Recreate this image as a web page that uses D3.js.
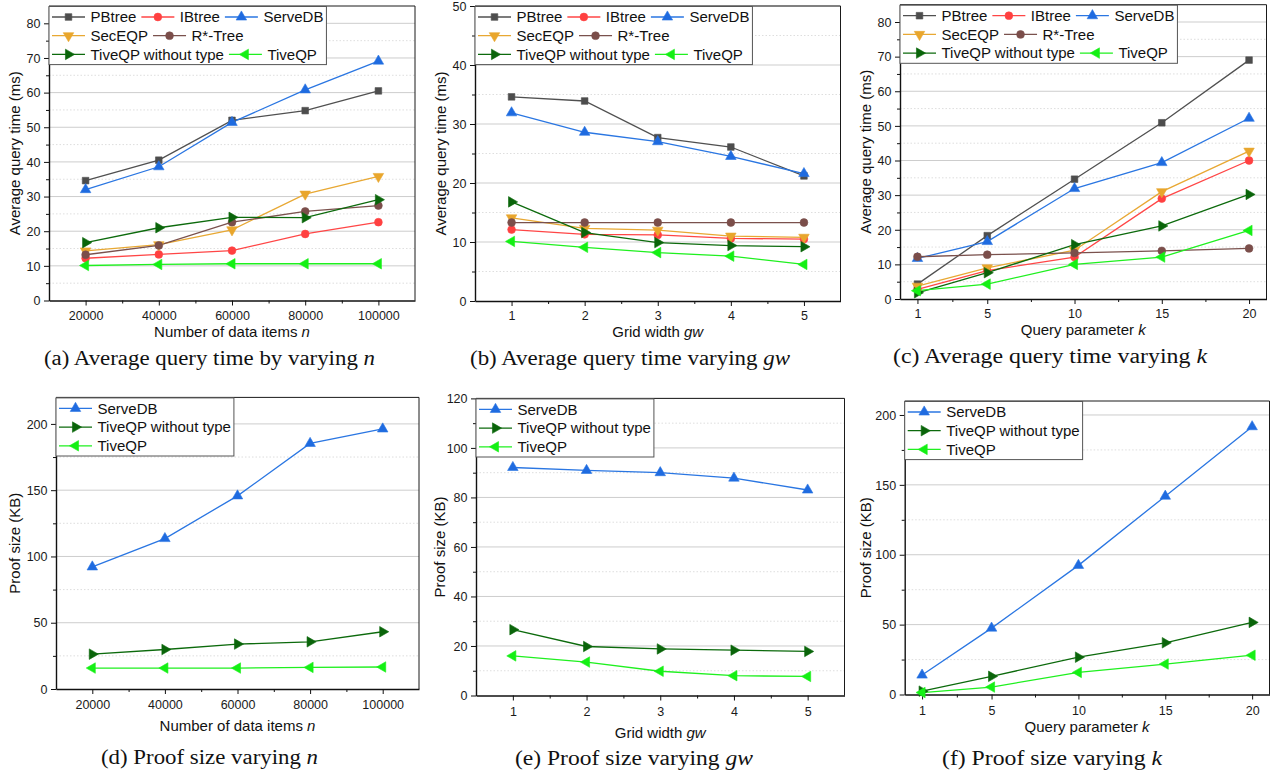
<!DOCTYPE html>
<html><head><meta charset="utf-8">
<script src="https://cdn.jsdelivr.net/npm/d3@7"></script>
<style>body{margin:0;background:#fff} svg{display:block}</style>
</head><body><svg id="c" width="1281" height="774"></svg>
<script>
// ---------------- DATA ----------------
const timeSeriesNames = ["PBtree","IBtree","ServeDB","SecEQP","R*-Tree","TiveQP without type","TiveQP"];
const proofSeriesNames = ["ServeDB","TiveQP without type","TiveQP"];

const nValues  = [20000, 40000, 60000, 80000, 100000];
const gwValues = [1, 2, 3, 4, 5];
const kValues  = [1, 5, 10, 15, 20];

const nTickLabels  = ["20000","40000","60000","80000","100000"];
const gwTickLabels = ["1","2","3","4","5"];
const kTickLabels  = ["1","5","10","15","20"];

// (a) average query time vs n  (rows follow timeSeriesNames)
const timeByN = [
  [34.6, 40.5, 52.0, 54.8, 60.5],
  [12.2, 13.3, 14.4, 19.2, 22.6],
  [32.0, 38.6, 51.4, 60.8, 69.1],
  [14.3, 16.1, 20.4, 30.7, 35.8],
  [13.2, 15.9, 22.6, 25.7, 27.4],
  [16.7, 21.0, 24.0, 23.9, 29.1],
  [10.1, 10.4, 10.6, 10.6, 10.6]
];
// (b) average query time vs gw
const timeByGw = [
  [34.6, 33.9, 27.7, 26.1, 21.2],
  [12.1, 11.3, 11.2, 10.6, 10.5],
  [31.9, 28.6, 27.0, 24.5, 21.6],
  [14.1, 12.3, 12.0, 11.0, 10.8],
  [13.3, 13.3, 13.3, 13.3, 13.3],
  [16.8, 11.6, 9.9, 9.4, 9.2],
  [10.1, 9.1, 8.2, 7.6, 6.2]
];
// (c) average query time vs k
const timeByK = [
  [4.3, 18.3, 34.6, 50.9, 69.0],
  [2.8, 8.2, 12.1, 29.0, 40.0],
  [11.7, 16.6, 31.9, 39.4, 52.2],
  [3.7, 9.0, 14.1, 31.0, 42.7],
  [12.2, 12.8, 13.3, 13.9, 14.6],
  [1.8, 7.6, 15.7, 21.1, 30.2],
  [2.4, 4.3, 10.0, 12.1, 19.8]
];
// (d) proof size vs n (rows follow proofSeriesNames)
const proofByN = [
  [92.1, 113.5, 145.7, 185.3, 196.2],
  [26.3, 29.8, 33.9, 35.6, 43.2],
  [15.8, 15.8, 15.8, 16.3, 16.6]
];
// (e) proof size vs gw
const proofByGw = [
  [92.1, 90.9, 90.0, 87.8, 83.0],
  [26.6, 19.8, 18.8, 18.3, 17.8],
  [16.0, 13.5, 9.8, 8.0, 7.7]
];
// (f) proof size vs k
const proofByK = [
  [13.9, 47.5, 92.4, 141.9, 191.6],
  [2.4, 13.0, 26.7, 37.0, 51.6],
  [1.4, 5.3, 15.8, 21.8, 28.1]
];

const timeYTicks    = [0,10,20,30,40,50,60,70,80];
const timeYMinor    = [5,15,25,35,45,55,65,75];
const timeGwYTicks  = [0,10,20,30,40,50];
const timeGwYMinor  = [5,15,25,35,45];
const proofNYTicks  = [0,50,100,150,200];
const proofNYMinor  = [25,75,125,175];
const proofGwYTicks = [0,20,40,60,80,100,120];
const proofGwYMinor = [10,30,50,70,90,110];
const proofKYTicks  = [0,50,100,150,200];
const proofKYMinor  = [25,75,125,175];
const nXMinor  = [30000,50000,70000,90000];
const gwXMinor = [1.5,2.5,3.5,4.5];
const kXMinor  = [3,7.5,12.5,17.5];

// ---------------- STYLES ----------------
const styles = {
  "PBtree":              {line:"#505050", fill:"#4d4d4d", sym:d3.symbolSquare,   rot:0,   size:44},
  "IBtree":              {line:"#ff4646", fill:"#ff4040", sym:d3.symbolCircle,   rot:0,   size:48},
  "ServeDB":             {line:"#2a76e2", fill:"#1f6be0", sym:d3.symbolTriangle, rot:0,   size:48},
  "SecEQP":              {line:"#e8a833", fill:"#e9a62c", sym:d3.symbolTriangle, rot:180, size:48},
  "R*-Tree":             {line:"#7a514d", fill:"#7b4e4a", sym:d3.symbolCircle,   rot:0,   size:48},
  "TiveQP without type": {line:"#0c6a0c", fill:"#0a640a", sym:d3.symbolTriangle, rot:90,  size:48},
  "TiveQP":              {line:"#1ff01f", fill:"#14f014", sym:d3.symbolTriangle, rot:-90, size:48}
};

const svg = d3.select("#c");
svg.append("rect").attr("width",1281).attr("height",774).attr("fill","#fff");

const SANS = "'Liberation Sans', Arial, sans-serif";
const SERIF = "'Liberation Serif', 'Times New Roman', serif";

const panels = [
  {left:49, right:415, top:6, bottom:300.5, xDomain:[10000,110000], yDomain:[0,85],
   xVals:nValues, xLabels:nTickLabels, xMinor:nXMinor, yTicks:timeYTicks, yMinor:timeYMinor,
   names:timeSeriesNames, data:timeByN, rows:[[0,1,2],[3,4],[5,6]],
   yTitle:"Average query time (ms)", yTitleX:15, xTitle:["Number of data items ","n"],
   tickOff:19, titleOff:36, capOff:64, cap:["(a)  Average query time by varying ","n"], capX:209.5, capW:331},
  {left:475, right:840.5, top:6, bottom:301, xDomain:[0.5,5.5], yDomain:[0,50],
   xVals:gwValues, xLabels:gwTickLabels, xMinor:gwXMinor, yTicks:timeGwYTicks, yMinor:timeGwYMinor,
   names:timeSeriesNames, data:timeByGw, rows:[[0,1,2],[3,4],[5,6]],
   yTitle:"Average query time (ms)", yTitleX:441, xTitle:["Grid width ","gw"],
   tickOff:19, titleOff:36, capOff:64, cap:["(b)  Average query time varying ","gw"], capX:630, capW:320},
  {left:900, right:1266.5, top:4.7, bottom:299, xDomain:[0,21], yDomain:[0,85],
   xVals:kValues, xLabels:kTickLabels, xMinor:kXMinor, yTicks:timeYTicks, yMinor:timeYMinor,
   names:timeSeriesNames, data:timeByK, rows:[[0,1,2],[3,4],[5,6]],
   yTitle:"Average query time (ms)", yTitleX:866, xTitle:["Query parameter ","k"],
   tickOff:19, titleOff:36, capOff:64, cap:["(c)  Average query time varying ","k"], capX:1050, capW:314},
  {left:56, right:419, top:397.4, bottom:689, xDomain:[10000,110000], yDomain:[0,220],
   xVals:nValues, xLabels:nTickLabels, xMinor:nXMinor, yTicks:proofNYTicks, yMinor:proofNYMinor,
   names:proofSeriesNames, data:proofByN, rows:[[0],[1],[2]],
   yTitle:"Proof size (KB)", yTitleX:15, xTitle:["Number of data items ","n"],
   tickOff:20, titleOff:42, capOff:75, cap:["(d)  Proof size varying ","n"], capX:209.5, capW:217},
  {left:476, right:844.5, top:398.4, bottom:695.5, xDomain:[0.5,5.5], yDomain:[0,120],
   xVals:gwValues, xLabels:gwTickLabels, xMinor:gwXMinor, yTicks:proofGwYTicks, yMinor:proofGwYMinor,
   names:proofSeriesNames, data:proofByGw, rows:[[0],[1],[2]],
   yTitle:"Proof size (KB)", yTitleX:440, xTitle:["Grid width ","gw"],
   tickOff:20, titleOff:42, capOff:69, cap:["(e)  Proof size varying ","gw"], capX:634, capW:238},
  {left:904.7, right:1269.5, top:401, bottom:694.5, xDomain:[0,21], yDomain:[0,210],
   xVals:kValues, xLabels:kTickLabels, xMinor:kXMinor, yTicks:proofKYTicks, yMinor:proofKYMinor,
   names:proofSeriesNames, data:proofByK, rows:[[0],[1],[2]],
   yTitle:"Proof size (KB)", yTitleX:866, xTitle:["Query parameter ","k"],
   tickOff:20, titleOff:37, capOff:70, cap:["(f)  Proof size varying ","k"], capX:1052, capW:220}
];

function marker(sel, st, cx, cy){
  sel.append("path")
    .attr("d", d3.symbol().type(st.sym).size(st.size)())
    .attr("transform", `translate(${cx},${cy}) rotate(${st.rot})`)
    .attr("fill", st.fill).attr("stroke", st.line).attr("stroke-width", 0.6);
}

function drawPanel(p){
  const g = svg.append("g");
  const x = d3.scaleLinear().domain(p.xDomain).range([p.left, p.right]);
  const y = d3.scaleLinear().domain(p.yDomain).range([p.bottom, p.top]);

  // minor (dotted) grid
  g.append("g").selectAll("line").data(p.yMinor).join("line")
    .attr("x1", p.left).attr("x2", p.right)
    .attr("y1", d => y(d)).attr("y2", d => y(d))
    .attr("stroke", "#d6d6d6").attr("stroke-width", 0.8).attr("stroke-dasharray", "1.5,2");
  // major grid
  g.append("g").selectAll("line").data(p.yTicks.filter(d => d > p.yDomain[0])).join("line")
    .attr("x1", p.left).attr("x2", p.right)
    .attr("y1", d => y(d)).attr("y2", d => y(d))
    .attr("stroke", "#cdcdcd").attr("stroke-width", 1);

  // frame top/right
  g.append("path")
    .attr("d", `M${p.left},${p.top}H${p.right}V${p.bottom}`)
    .attr("fill", "none").attr("stroke", "#1a1a1a").attr("stroke-width", 1);

  // y axis
  const yAxisG = g.append("g").attr("transform", `translate(${p.left},0)`)
    .call(d3.axisLeft(y).tickValues(p.yTicks).tickSize(5).tickSizeOuter(0).tickPadding(3.5));
  g.append("g").attr("transform", `translate(${p.left},0)`)
    .call(d3.axisLeft(y).tickValues(p.yMinor).tickSize(3).tickSizeOuter(0).tickFormat(""))
    .select(".domain").remove();
  // x axis
  const xAxisG = g.append("g").attr("transform", `translate(0,${p.bottom})`)
    .call(d3.axisBottom(x).tickValues(p.xVals).tickSize(5).tickSizeOuter(0)
      .tickFormat((d, i) => p.xLabels[i]).tickPadding(3));
  g.append("g").attr("transform", `translate(0,${p.bottom})`)
    .call(d3.axisBottom(x).tickValues(p.xMinor).tickSize(3).tickSizeOuter(0).tickFormat(""))
    .select(".domain").remove();

  g.selectAll(".domain").attr("stroke", "#111").attr("stroke-width", 1.4);
  g.selectAll(".tick line").attr("stroke", "#111").attr("stroke-width", 1);
  g.selectAll(".tick text").attr("font-family", SANS).attr("font-size", 12.5).attr("fill", "#1a1a1a");
  xAxisG.selectAll(".tick text").attr("dy", null).attr("y", p.tickOff);
  yAxisG.selectAll(".tick text").attr("dy", "0.34em");

  // series lines + markers
  p.names.forEach((name, si) => {
    const st = styles[name];
    const vals = p.data[si];
    const pts = p.xVals.map((xv, i) => [x(xv), y(vals[i])]);
    g.append("path").attr("d", d3.line()(pts))
      .attr("fill", "none").attr("stroke", st.line).attr("stroke-width", 1.3);
  });
  p.names.forEach((name, si) => {
    const st = styles[name];
    const vals = p.data[si];
    p.xVals.forEach((xv, i) => marker(g, st, x(xv), y(vals[i])));
  });

  // legend
  const lg = g.append("g");
  const bx = p.left, by = p.top + 0.5;
  const box = lg.append("rect").attr("x", bx).attr("y", by)
    .attr("fill", "#fff").attr("stroke", "#555").attr("stroke-width", 1);
  let maxX = 0;
  p.rows.forEach((row, ri) => {
    const cy = by + 10.5 + ri * 18.7;
    let cx = bx + 3;
    row.forEach(si => {
      const name = p.names[si];
      const st = styles[name];
      lg.append("line").attr("x1", cx).attr("x2", cx + 33).attr("y1", cy).attr("y2", cy)
        .attr("stroke", st.line).attr("stroke-width", 1.3);
      marker(lg, st, cx + 16.5, cy);
      const t = lg.append("text").attr("x", cx + 38.5).attr("y", cy + 5.3)
        .attr("font-family", SANS).attr("font-size", 15).attr("fill", "#111").text(name);
      const w = t.node().getComputedTextLength();
      cx = cx + 38.5 + w + 5;
    });
    maxX = Math.max(maxX, cx - 5);
  });
  box.attr("width", maxX + 3 - bx).attr("height", p.rows.length * 18.7 + 2);

  // y title
  g.append("text")
    .attr("transform", `translate(${p.yTitleX},${(p.top + p.bottom) / 2}) rotate(-90)`)
    .attr("text-anchor", "middle").attr("dy", "0.35em")
    .attr("font-family", SANS).attr("font-size", 15).attr("fill", "#111").text(p.yTitle);
  // x title
  const xt = g.append("text").attr("x", (p.left + p.right) / 2).attr("y", p.bottom + p.titleOff)
    .attr("text-anchor", "middle").attr("font-family", SANS).attr("font-size", 15).attr("fill", "#111");
  xt.append("tspan").text(p.xTitle[0]);
  xt.append("tspan").attr("font-style", "italic").text(p.xTitle[1]);

  // caption
  const ct = g.append("text").attr("x", p.capX).attr("y", p.bottom + p.capOff)
    .attr("text-anchor", "middle").attr("font-family", SERIF).attr("font-size", 20).attr("fill", "#111")
    .attr("textLength", p.capW).attr("lengthAdjust", "spacingAndGlyphs");
  ct.append("tspan").text(p.cap[0]);
  ct.append("tspan").attr("font-style", "italic").text(p.cap[1]);
}

panels.forEach(drawPanel);
</script>
</body></html>
